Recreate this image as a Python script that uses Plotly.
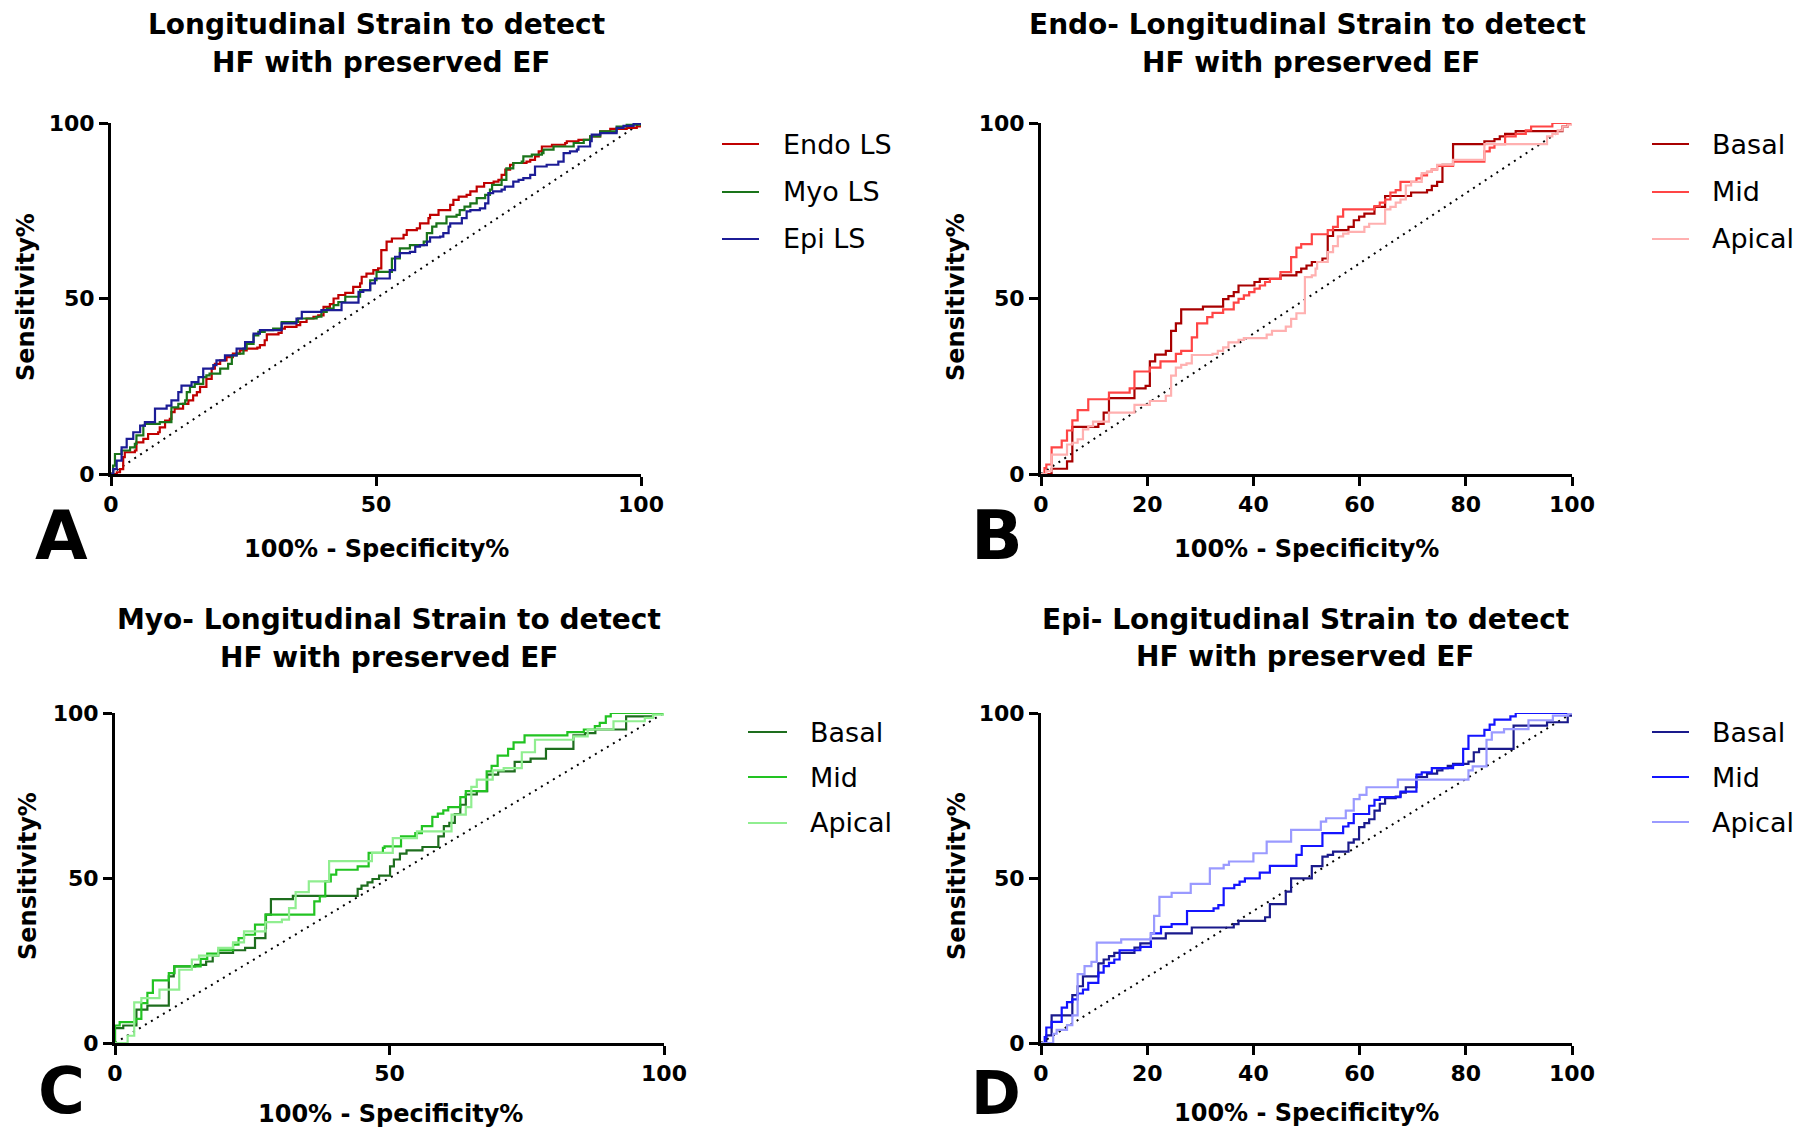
import plotly.graph_objects as go

# ---------------- DATA ----------------
# Panel A: Longitudinal strain (Endo / Myo / Epi LS) -- ROC step points (100-Spec%, Sens%)
A_endo_x = [0, 1.1, 1.7, 2.3, 2.6, 4.5, 4.8, 6.1, 7.0, 8.9, 9.2, 10.2, 11.1, 11.4, 12.0, 13.6, 14.6, 15.5, 16.2, 16.8, 18.0, 19.0, 19.6, 20.6, 21.8, 23.0, 24.3, 25.6, 27.6, 28.1, 29.0, 29.4, 31.6, 32.2, 32.8, 35.0, 35.7, 36.9, 38.2, 39.1, 40.1, 41.3, 42.0, 42.9, 44.2, 45.7, 47.0, 47.3, 48.2, 49.5, 50.4, 51.0, 52.0, 53.0, 55.2, 55.8, 57.7, 58.3, 59.9, 60.2, 61.8, 64.0, 64.6, 65.6, 67.1, 67.8, 69.0, 70.4, 72.2, 73.1, 73.7, 74.4, 75.3, 75.9, 78.4, 79.1, 80.0, 80.7, 81.3, 83.2, 85.7, 86.0, 88.2, 90.4, 92.3, 94.2, 97.3, 99.2, 100]
A_endo_y = [0, 0.5, 1.4, 4.8, 6.2, 6.7, 9.0, 10.0, 11.4, 11.9, 13.3, 15.2, 15.7, 17.6, 18.6, 20.0, 21.0, 22.4, 23.3, 24.8, 27.1, 30.0, 31.4, 32.4, 33.3, 34.3, 35.2, 35.7, 36.0, 36.7, 38.1, 39.8, 40.2, 41.4, 41.9, 42.4, 43.3, 44.3, 44.8, 45.2, 47.6, 48.4, 50.0, 51.0, 51.6, 53.3, 54.3, 56.2, 57.1, 58.1, 58.6, 63.8, 66.2, 67.1, 68.1, 69.5, 70.0, 71.4, 72.9, 73.8, 75.2, 76.7, 78.1, 79.0, 79.5, 80.5, 81.9, 82.9, 83.3, 83.8, 85.2, 86.7, 88.1, 88.6, 89.0, 89.5, 90.5, 91.9, 93.3, 93.8, 94.3, 94.8, 95.2, 96.2, 97.6, 98.3, 98.6, 99.0, 100]
A_myo_x = [0, 0.4, 0.75, 2.0, 3.6, 4.5, 4.8, 6.1, 6.4, 9.2, 11.4, 12.7, 14.0, 14.3, 14.9, 15.8, 17.4, 18.0, 18.6, 20.6, 22.1, 22.8, 23.7, 25.0, 25.6, 26.9, 27.8, 29.0, 30.6, 32.2, 35.3, 38.8, 39.7, 40.7, 42.0, 42.9, 44.2, 47.0, 48.9, 50.1, 53.0, 54.5, 56.4, 59.0, 59.6, 60.6, 61.4, 63.3, 65.2, 65.8, 66.7, 67.8, 69.0, 70.6, 71.5, 71.9, 73.7, 74.6, 75.9, 77.5, 77.8, 79.4, 81.3, 81.6, 83.5, 87.3, 89.2, 90.4, 92.3, 95.4, 97.3, 100]
A_myo_y = [0, 2.4, 5.7, 6.7, 7.6, 8.6, 11.0, 13.8, 14.3, 14.8, 19.0, 20.0, 21.0, 23.3, 24.8, 25.7, 27.6, 28.1, 28.6, 30.0, 31.4, 33.8, 34.3, 35.7, 37.1, 39.5, 40.5, 41.0, 41.4, 43.3, 44.3, 44.8, 46.2, 47.1, 48.1, 49.0, 50.5, 52.4, 55.2, 57.6, 61.4, 64.3, 65.2, 66.2, 68.6, 70.5, 71.4, 73.3, 73.8, 75.2, 76.2, 77.1, 78.6, 79.5, 81.0, 82.4, 83.8, 87.1, 88.6, 89.0, 90.5, 91.0, 91.4, 92.4, 93.3, 94.3, 95.2, 96.2, 97.6, 99.0, 99.5, 100]
A_epi_x = [0, 0.44, 1.07, 2.0, 2.96, 4.2, 5.5, 6.4, 8.3, 10.5, 11.4, 12.7, 13.3, 15.2, 16.5, 17.4, 19.3, 19.9, 21.5, 23.7, 25.3, 26.9, 28.1, 32.2, 35.0, 36.0, 39.7, 43.5, 46.7, 47.6, 48.9, 49.8, 52.6, 53.6, 54.5, 56.4, 57.4, 58.3, 59.6, 60.2, 62.1, 62.7, 63.7, 64.0, 66.2, 67.1, 67.8, 69.6, 70.6, 71.2, 72.1, 73.7, 74.3, 75.9, 76.9, 77.8, 79.1, 80.0, 82.2, 84.4, 85.4, 86.6, 87.9, 88.2, 90.4, 90.7, 92.3, 95.4, 96.7, 98.6, 100]
A_epi_y = [0, 1.4, 3.8, 7.6, 10.0, 11.9, 13.8, 14.8, 18.6, 19.5, 21.0, 23.3, 25.2, 26.2, 27.6, 30.0, 31.0, 32.4, 33.8, 35.7, 37.6, 40.0, 41.0, 42.9, 44.3, 46.2, 46.7, 48.8, 51.9, 52.4, 54.3, 55.7, 58.1, 61.9, 62.9, 63.3, 64.8, 65.2, 66.2, 67.4, 67.6, 68.6, 70.5, 71.4, 72.9, 74.8, 75.2, 75.7, 77.1, 80.0, 80.5, 81.0, 81.9, 83.3, 83.8, 84.3, 85.2, 87.6, 88.1, 89.0, 91.4, 91.9, 92.4, 93.3, 94.8, 96.7, 97.1, 98.6, 99.2, 99.8, 100]

# Panel B: Endo-LS by level
B_basal_x = [0, 2.0, 4.9, 5.9, 10.8, 11.8, 12.8, 17.6, 19.7, 20.5, 21.5, 23.5, 24.5, 25.4, 26.4, 30.5, 34.3, 35.3, 36.3, 37.2, 40.2, 41.2, 45.1, 48.1, 49.0, 50.0, 51.0, 53.0, 54.0, 55.0, 57.9, 58.9, 59.9, 60.9, 62.8, 64.8, 69.7, 72.7, 73.6, 74.6, 75.6, 77.6, 83.5, 85.4, 86.4, 87.4, 89.4, 98.2, 99.2, 100]
B_basal_y = [0, 1.5, 3.6, 13.4, 14.3, 17.5, 21.6, 24.4, 25.1, 32.1, 34.0, 35.1, 40.8, 42.9, 46.9, 47.7, 49.8, 50.7, 51.8, 53.7, 54.7, 55.6, 56.6, 57.5, 58.5, 59.4, 60.4, 61.4, 67.8, 69.5, 70.4, 72.3, 73.3, 74.2, 76.1, 79.2, 80.2, 80.9, 82.1, 83.2, 88.1, 94.0, 94.8, 95.4, 96.2, 96.9, 97.7, 99.0, 100, 100]
B_mid_x = [0, 0.66, 1.0, 2.0, 3.9, 4.9, 5.9, 6.9, 8.9, 12.8, 16.7, 17.6, 20.5, 22.5, 25.4, 26.4, 28.4, 29.4, 31.3, 32.3, 34.3, 36.3, 37.2, 38.2, 39.2, 40.2, 41.2, 42.2, 43.1, 45.1, 47.1, 48.1, 49.0, 51.0, 54.0, 55.0, 55.9, 56.9, 62.8, 63.8, 64.8, 65.8, 66.8, 67.7, 70.7, 71.7, 72.7, 73.6, 74.6, 77.6, 83.5, 84.5, 85.4, 87.4, 89.4, 91.3, 92.3, 96.3, 100]
B_mid_y = [0, 1.7, 2.7, 7.6, 9.5, 12.4, 15.3, 18.2, 21.3, 23.2, 24.4, 29.2, 30.3, 32.1, 34.2, 35.1, 38.9, 42.9, 44.7, 45.9, 46.9, 48.8, 49.9, 50.9, 51.8, 52.8, 53.7, 54.7, 55.6, 57.5, 61.8, 64.5, 65.5, 68.3, 69.5, 70.4, 73.3, 75.4, 76.3, 77.3, 78.2, 80.2, 80.9, 83.2, 84.2, 85.1, 86.1, 86.8, 87.8, 89.0, 91.9, 93.0, 94.0, 96.2, 96.9, 97.9, 99.0, 100, 100]
B_apical_x = [0, 1.0, 2.0, 4.9, 5.9, 6.9, 7.9, 8.9, 9.8, 12.8, 17.6, 20.5, 23.5, 24.5, 25.4, 26.4, 27.4, 28.4, 32.3, 33.3, 34.3, 35.3, 37.2, 38.2, 42.5, 43.5, 46.1, 47.1, 48.1, 49.7, 51.0, 51.7, 52.0, 54.0, 55.0, 55.9, 56.9, 57.9, 60.9, 61.8, 64.8, 65.8, 66.8, 67.7, 68.7, 69.7, 71.7, 72.7, 73.6, 74.6, 77.6, 83.5, 95.3, 96.3, 97.3, 98.2, 99.2, 100]
B_apical_y = [0, 0.8, 5.5, 8.4, 8.9, 9.9, 12.7, 13.6, 14.9, 17.5, 19.7, 20.8, 22.3, 28.0, 30.3, 31.1, 31.5, 33.9, 34.2, 35.1, 36.1, 37.5, 38.2, 38.7, 39.7, 40.8, 42.0, 44.2, 45.8, 56.1, 56.6, 58.5, 60.4, 63.2, 64.9, 67.7, 68.5, 69.0, 70.4, 71.3, 75.4, 76.1, 77.3, 78.2, 82.2, 83.2, 85.7, 86.1, 86.8, 88.1, 89.5, 94.0, 96.2, 96.9, 97.9, 99.0, 99.5, 100]

# Panel C: Myo-LS by level
C_basal_x = [0, 0, 1.5, 3.9, 5.9, 9.8, 10.7, 10.8, 14.6, 16.6, 17.8, 18.8, 21.5, 23.7, 25.5, 27.4, 27.5, 28.4, 32.4, 44.2, 44.9, 46.0, 46.9, 48.1, 50.1, 50.8, 51.9, 53.1, 56.0, 58.9, 59.9, 60.9, 61.9, 62.9, 63.9, 65.9, 67.8, 69.8, 72.8, 75.7, 78.5, 83.5, 85.6, 87.5, 93.1, 98.0, 100]
C_basal_y = [0, 4.5, 5.3, 10.1, 11.3, 20.2, 21.2, 23.2, 23.7, 24.7, 26.5, 27.3, 28.1, 28.8, 31.8, 34.8, 38.9, 43.6, 44.6, 46.7, 47.7, 48.7, 49.7, 50.7, 53.5, 55.6, 57.4, 58.4, 59.4, 62.6, 65.7, 66.7, 69.4, 72.2, 75.3, 76.3, 81.3, 82.3, 85.2, 86.2, 89.1, 93.2, 93.9, 95.0, 99.0, 99.8, 100]
C_mid_x = [0, 0, 0.85, 3.8, 4.8, 5.9, 6.9, 9.8, 10.8, 15.6, 16.8, 18.8, 21.5, 22.5, 23.5, 25.5, 27.4, 36.3, 37.3, 38.3, 39.3, 40.3, 44.2, 46.2, 48.8, 49.1, 52.1, 54.7, 55.9, 57.8, 58.8, 59.8, 60.7, 62.9, 63.9, 67.7, 68.6, 69.7, 71.6, 72.6, 74.6, 82.4, 85.4, 87.4, 88.3, 89.4, 90.3, 100]
C_mid_y = [0, 5.3, 6.3, 7.3, 12.1, 15.2, 19.0, 21.2, 23.2, 25.5, 27.1, 28.1, 29.8, 31.8, 32.8, 35.9, 38.9, 42.9, 44.4, 49.0, 51.0, 52.5, 53.5, 57.6, 59.1, 59.6, 62.6, 63.6, 65.7, 68.5, 69.5, 70.5, 71.5, 74.5, 76.3, 82.3, 84.0, 87.1, 89.1, 91.1, 93.2, 94.2, 95.0, 96.0, 97.0, 99.0, 100, 100]
C_apical_x = [0, 2.3, 3.5, 4.8, 8.1, 11.7, 14.0, 15.3, 18.8, 21.5, 23.5, 27.4, 30.4, 31.7, 32.9, 35.3, 39.0, 46.8, 50.6, 55.0, 61.3, 63.9, 64.9, 65.9, 68.8, 70.8, 74.1, 76.5, 83.5, 86.1, 90.8, 96.5, 98.0, 100]
C_apical_y = [0, 2.2, 12.3, 13.6, 16.2, 22.2, 25.3, 26.5, 28.8, 30.5, 33.8, 36.6, 37.4, 40.9, 45.7, 49.0, 55.1, 57.6, 62.1, 64.1, 69.2, 71.5, 77.6, 79.8, 82.6, 83.3, 88.1, 91.9, 92.9, 95.0, 97.5, 98.5, 99.5, 100]

# Panel D: Epi-LS by level
D_basal_x = [0, 1.0, 2.0, 5.9, 6.9, 7.9, 10.8, 11.8, 12.8, 13.8, 17.6, 18.7, 20.7, 23.5, 28.4, 36.3, 37.2, 42.2, 43.1, 46.1, 47.1, 51.0, 53.0, 54.0, 55.0, 57.9, 58.9, 59.9, 60.9, 61.8, 62.8, 63.8, 64.8, 66.8, 67.7, 68.7, 70.7, 72.7, 74.6, 75.6, 76.6, 77.6, 80.5, 81.5, 82.5, 89.0, 95.3, 99.2, 100]
D_basal_y = [0, 2.3, 8.4, 14.5, 17.2, 20.2, 24.1, 25.3, 26.3, 27.3, 28.9, 30.2, 31.7, 33.2, 35.0, 36.0, 37.0, 38.1, 42.1, 45.9, 49.9, 53.6, 56.5, 57.0, 58.0, 60.7, 61.7, 65.4, 66.6, 67.8, 70.4, 72.5, 74.2, 74.7, 75.9, 77.5, 80.6, 81.6, 82.6, 83.3, 84.0, 84.6, 85.3, 88.1, 89.1, 96.2, 97.2, 99.2, 100]
D_mid_x = [0, 0.7, 1.0, 2.0, 3.9, 4.9, 5.9, 6.9, 7.9, 8.9, 10.8, 11.8, 12.8, 13.8, 14.8, 18.7, 20.7, 22.6, 24.6, 27.5, 32.5, 33.4, 34.4, 36.4, 37.4, 38.4, 41.2, 43.1, 48.1, 49.1, 53.0, 56.9, 57.9, 58.9, 61.8, 62.8, 63.8, 67.7, 70.7, 71.7, 73.6, 77.6, 79.5, 80.5, 83.5, 84.5, 85.4, 88.4, 89.4, 100]
D_mid_y = [0, 1.8, 4.7, 6.4, 10.7, 12.4, 13.2, 15.0, 16.2, 18.2, 21.3, 23.3, 24.3, 25.3, 28.1, 29.1, 33.2, 35.2, 36.0, 40.0, 40.8, 41.8, 46.9, 47.9, 48.9, 49.9, 51.6, 53.7, 57.0, 59.7, 63.6, 65.6, 66.6, 69.4, 71.9, 73.7, 74.5, 76.2, 81.3, 82.0, 83.3, 84.3, 89.1, 93.1, 94.9, 96.5, 98.0, 99.0, 100, 100]
D_apical_x = [0, 2.3, 2.95, 4.9, 5.9, 6.9, 8.2, 9.5, 10.5, 15.1, 20.7, 21.3, 22.3, 24.6, 28.2, 31.8, 34.4, 35.4, 40.0, 42.5, 47.1, 52.7, 53.7, 57.4, 58.9, 60.0, 61.3, 67.2, 80.5, 81.3, 83.9, 84.9, 87.2, 91.8, 96.4, 99.3, 100]
D_apical_y = [0, 2.8, 4.0, 5.4, 8.4, 20.9, 23.3, 24.6, 30.4, 31.4, 33.2, 38.5, 44.3, 45.5, 48.2, 52.9, 54.0, 55.0, 57.5, 61.0, 64.6, 67.1, 68.1, 70.4, 73.9, 75.2, 77.5, 79.8, 82.6, 83.8, 91.9, 94.1, 95.1, 97.8, 99.2, 99.8, 100]

ref_x = [0, 100]
ref_y = [0, 100]

titles = [
    ["Longitudinal Strain to detect", "HF with preserved EF"],
    ["Endo- Longitudinal Strain to detect", "HF with preserved EF"],
    ["Myo- Longitudinal Strain to detect", "HF with preserved EF"],
    ["Epi- Longitudinal Strain to detect", "HF with preserved EF"],
]
panel_letters = ["A", "B", "C", "D"]
legend_names = [["Endo LS", "Myo LS", "Epi LS"], ["Basal", "Mid", "Apical"],
                ["Basal", "Mid", "Apical"], ["Basal", "Mid", "Apical"]]
x_tickvals = [[0, 50, 100], [0, 20, 40, 60, 80, 100], [0, 50, 100], [0, 20, 40, 60, 80, 100]]
y_tickvals = [0, 50, 100]
x_title = "100% - Specificity%"
y_title = "Sensitivity%"

# ---------------- STYLE / LAYOUT ----------------
W, H = 1798, 1132
colors = [
    ["#C00000", "#1A741A", "#1C1C96"],
    ["#A80000", "#FF4545", "#FFB0B0"],
    ["#1E6E1E", "#22C322", "#90EE90"],
    ["#1A1A8C", "#1414FF", "#9A9AFF"],
]
series = [
    [(A_endo_x, A_endo_y), (A_myo_x, A_myo_y), (A_epi_x, A_epi_y)],
    [(B_basal_x, B_basal_y), (B_mid_x, B_mid_y), (B_apical_x, B_apical_y)],
    [(C_basal_x, C_basal_y), (C_mid_x, C_mid_y), (C_apical_x, C_apical_y)],
    [(D_basal_x, D_basal_y), (D_mid_x, D_mid_y), (D_apical_x, D_apical_y)],
]
# plot-area pixel boxes (left, right, top, bottom)
boxes = [(111, 641, 123, 474), (1041, 1572, 123, 474), (115, 664, 713, 1043), (1041, 1572, 713, 1043)]
title_pos = [((376, 24), (381, 63)), ((1307, 24), (1311, 63)), ((389, 619), (389, 657)), ((1305, 619), (1305, 656))]
xtitle_pos = [(376, 549), (1306, 549), (390, 1114), (1306, 1113)]
ytitle_pos = [(26, 297), (956, 297), (28, 876), (957, 876)]
letter_pos = [(61, 535), (997, 535), (61, 1091), (996, 1093)]
letter_size = [68, 68, 64, 60]
legend_line = [(722, 759), (1652, 1689), (748, 787), (1652, 1689)]
legend_text_x = [781, 1710, 808, 1710]
legend_y = [[144, 192, 239], [144, 192, 239], [732, 777, 823], [732, 777, 822]]

FONT = "DejaVu Sans"

def px(x):
    return x / W

def py(y):
    return 1 - y / H

fig = go.Figure()
annotations = []
shapes = []
layout_axes = {}

for i in range(4):
    xa = "x" if i == 0 else f"x{i+1}"
    ya = "y" if i == 0 else f"y{i+1}"
    l, r, t, b = boxes[i]
    # diagonal reference line
    fig.add_trace(go.Scatter(x=ref_x, y=ref_y, xaxis=xa, yaxis=ya, mode="lines",
                             line=dict(color="black", width=2, dash="2px,5px"),
                             showlegend=False, hoverinfo="skip"))
    for j, (sx, sy) in enumerate(series[i]):
        fig.add_trace(go.Scatter(x=sx, y=sy, xaxis=xa, yaxis=ya, mode="lines",
                                 line=dict(color=colors[i][j], width=2.2, shape="hv"),
                                 name=legend_names[i][j], showlegend=False))
    axkw = dict(showgrid=False, zeroline=False, showline=True, linewidth=3, linecolor="black",
                ticks="outside", ticklen=9, tickwidth=3, tickcolor="black", automargin=False,
                tickfont=dict(family=FONT, size=22, color="black", weight="bold"))
    xname = "xaxis" if i == 0 else f"xaxis{i+1}"
    yname = "yaxis" if i == 0 else f"yaxis{i+1}"
    layout_axes[xname] = dict(domain=[px(l), px(r)], range=[0, 100], anchor=ya,
                              tickvals=x_tickvals[i], **axkw)
    layout_axes[yname] = dict(domain=[py(b), py(t)], range=[0, 100], anchor=xa,
                              tickvals=y_tickvals, **axkw)

    # titles
    for k in range(2):
        tx, ty = title_pos[i][k]
        annotations.append(dict(x=px(tx), y=py(ty), xref="paper", yref="paper", text=titles[i][k],
                                showarrow=False, xanchor="center", yanchor="middle",
                                font=dict(family=FONT, size=28, color="black", weight="bold")))
    # axis titles
    annotations.append(dict(x=px(xtitle_pos[i][0]), y=py(xtitle_pos[i][1]), xref="paper", yref="paper",
                            text=x_title, showarrow=False, xanchor="center", yanchor="middle",
                            font=dict(family=FONT, size=24, color="black", weight="bold")))
    annotations.append(dict(x=px(ytitle_pos[i][0]), y=py(ytitle_pos[i][1]), xref="paper", yref="paper",
                            text=y_title, showarrow=False, xanchor="center", yanchor="middle",
                            textangle=-90,
                            font=dict(family=FONT, size=24, color="black", weight="bold")))
    # panel letter
    annotations.append(dict(x=px(letter_pos[i][0]), y=py(letter_pos[i][1]), xref="paper", yref="paper",
                            text=panel_letters[i], showarrow=False, xanchor="center", yanchor="middle",
                            font=dict(family=FONT, size=letter_size[i], color="black", weight="bold")))
    # legend
    for j in range(3):
        yy = legend_y[i][j]
        shapes.append(dict(type="line", xref="paper", yref="paper",
                           x0=px(legend_line[i][0]), x1=px(legend_line[i][1]), y0=py(yy), y1=py(yy),
                           line=dict(color=colors[i][j], width=2.2)))
        annotations.append(dict(x=px(legend_text_x[i]), y=py(yy), xref="paper", yref="paper",
                                text=legend_names[i][j], showarrow=False, xanchor="left", yanchor="middle",
                                font=dict(family=FONT, size=27, color="black")))

fig.update_layout(width=W, height=H, margin=dict(l=0, r=0, t=0, b=0, autoexpand=False),
                  paper_bgcolor="white", plot_bgcolor="white", showlegend=False,
                  annotations=annotations, shapes=shapes, **layout_axes)

fig.write_html("out.html")
